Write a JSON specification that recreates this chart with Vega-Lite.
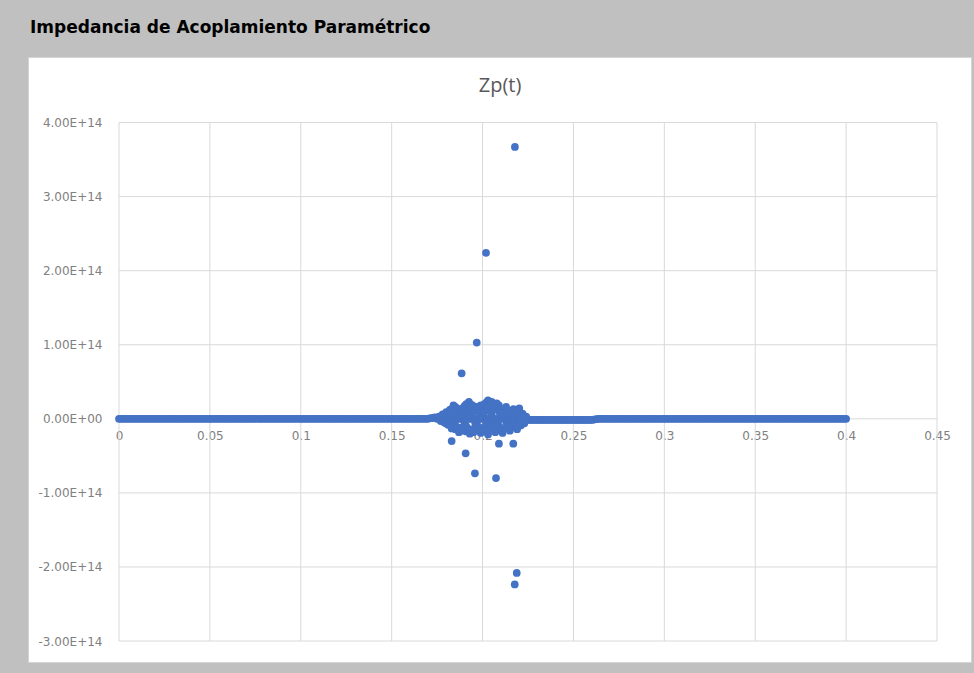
{
  "$schema": "https://vega.github.io/schema/vega-lite/v6.json",
  "autosize": "none",
  "width": 943,
  "height": 605,
  "padding": {"left": 28, "top": 57, "right": 3, "bottom": 11},
  "background": "#c0c0c0",
  "title": {"text": "Impedancia de Acoplamiento Paramétrico", "anchor": "start", "frame": "group", "font": "DejaVu Sans", "fontSize": 17, "fontWeight": "bold", "color": "#000000", "baseline": "alphabetic", "offset": 7, "dx": 2},
  "config": {"view": {"fill": "#ffffff", "stroke": "#d4d4d4", "strokeWidth": 1}},
  "datasets": {
    "gx": [{"t": 0}, {"t": 0.05}, {"t": 0.1}, {"t": 0.15}, {"t": 0.2}, {"t": 0.25}, {"t": 0.3}, {"t": 0.35}, {"t": 0.4}, {"t": 0.45}],
    "gy": [{"zp": -3e14}, {"zp": -2e14}, {"zp": -1e14}, {"zp": 0}, {"zp": 1e14}, {"zp": 2e14}, {"zp": 3e14}, {"zp": 4e14}],
    "pts": [
      {"t":0,"zp":0},{"t":0.00125,"zp":0},{"t":0.0025,"zp":0},{"t":0.00375,"zp":0},{"t":0.005,"zp":0},{"t":0.00625,"zp":0},{"t":0.0075,"zp":0},{"t":0.00875,"zp":0},{"t":0.01,"zp":0},{"t":0.01125,"zp":0},{"t":0.0125,"zp":0},{"t":0.01375,"zp":0},{"t":0.015,"zp":0},{"t":0.01625,"zp":0},{"t":0.0175,"zp":0},{"t":0.01875,"zp":0},{"t":0.02,"zp":0},{"t":0.02125,"zp":0},{"t":0.0225,"zp":0},{"t":0.02375,"zp":0},
      {"t":0.025,"zp":0},{"t":0.02625,"zp":0},{"t":0.0275,"zp":0},{"t":0.02875,"zp":0},{"t":0.03,"zp":0},{"t":0.03125,"zp":0},{"t":0.0325,"zp":0},{"t":0.03375,"zp":0},{"t":0.035,"zp":0},{"t":0.03625,"zp":0},{"t":0.0375,"zp":0},{"t":0.03875,"zp":0},{"t":0.04,"zp":0},{"t":0.04125,"zp":0},{"t":0.0425,"zp":0},{"t":0.04375,"zp":0},{"t":0.045,"zp":0},{"t":0.04625,"zp":0},{"t":0.0475,"zp":0},{"t":0.04875,"zp":0},
      {"t":0.05,"zp":0},{"t":0.05125,"zp":0},{"t":0.0525,"zp":0},{"t":0.05375,"zp":0},{"t":0.055,"zp":0},{"t":0.05625,"zp":0},{"t":0.0575,"zp":0},{"t":0.05875,"zp":0},{"t":0.06,"zp":0},{"t":0.06125,"zp":0},{"t":0.0625,"zp":0},{"t":0.06375,"zp":0},{"t":0.065,"zp":0},{"t":0.06625,"zp":0},{"t":0.0675,"zp":0},{"t":0.06875,"zp":0},{"t":0.07,"zp":0},{"t":0.07125,"zp":0},{"t":0.0725,"zp":0},{"t":0.07375,"zp":0},
      {"t":0.075,"zp":0},{"t":0.07625,"zp":0},{"t":0.0775,"zp":0},{"t":0.07875,"zp":0},{"t":0.08,"zp":0},{"t":0.08125,"zp":0},{"t":0.0825,"zp":0},{"t":0.08375,"zp":0},{"t":0.085,"zp":0},{"t":0.08625,"zp":0},{"t":0.0875,"zp":0},{"t":0.08875,"zp":0},{"t":0.09,"zp":0},{"t":0.09125,"zp":0},{"t":0.0925,"zp":0},{"t":0.09375,"zp":0},{"t":0.095,"zp":0},{"t":0.09625,"zp":0},{"t":0.0975,"zp":0},{"t":0.09875,"zp":0},
      {"t":0.1,"zp":0},{"t":0.10125,"zp":0},{"t":0.1025,"zp":0},{"t":0.10375,"zp":0},{"t":0.105,"zp":0},{"t":0.10625,"zp":0},{"t":0.1075,"zp":0},{"t":0.10875,"zp":0},{"t":0.11,"zp":0},{"t":0.11125,"zp":0},{"t":0.1125,"zp":0},{"t":0.11375,"zp":0},{"t":0.115,"zp":0},{"t":0.11625,"zp":0},{"t":0.1175,"zp":0},{"t":0.11875,"zp":0},{"t":0.12,"zp":0},{"t":0.12125,"zp":0},{"t":0.1225,"zp":0},{"t":0.12375,"zp":0},
      {"t":0.125,"zp":0},{"t":0.12625,"zp":0},{"t":0.1275,"zp":0},{"t":0.12875,"zp":0},{"t":0.13,"zp":0},{"t":0.13125,"zp":0},{"t":0.1325,"zp":0},{"t":0.13375,"zp":0},{"t":0.135,"zp":0},{"t":0.13625,"zp":0},{"t":0.1375,"zp":0},{"t":0.13875,"zp":0},{"t":0.14,"zp":0},{"t":0.14125,"zp":0},{"t":0.1425,"zp":0},{"t":0.14375,"zp":0},{"t":0.145,"zp":0},{"t":0.14625,"zp":0},{"t":0.1475,"zp":0},{"t":0.14875,"zp":0},
      {"t":0.15,"zp":0},{"t":0.15125,"zp":0},{"t":0.1525,"zp":0},{"t":0.15375,"zp":0},{"t":0.155,"zp":0},{"t":0.15625,"zp":0},{"t":0.1575,"zp":0},{"t":0.15875,"zp":0},{"t":0.16,"zp":0},{"t":0.16125,"zp":0},{"t":0.1625,"zp":0},{"t":0.16375,"zp":0},{"t":0.165,"zp":0},{"t":0.16625,"zp":0},{"t":0.1675,"zp":0},{"t":0.16875,"zp":0},{"t":0.17,"zp":0},{"t":0.17125,"zp":1e12},{"t":0.1725,"zp":1e12},{"t":0.17375,"zp":2e12},
      {"t":0.175,"zp":0},{"t":0.17625,"zp":0},{"t":0.1775,"zp":0},{"t":0.17875,"zp":0},{"t":0.18,"zp":0},{"t":0.18125,"zp":0},{"t":0.1825,"zp":0},{"t":0.18375,"zp":0},{"t":0.185,"zp":0},{"t":0.18625,"zp":0},{"t":0.1875,"zp":0},{"t":0.18875,"zp":0},{"t":0.19,"zp":0},{"t":0.19125,"zp":0},{"t":0.1925,"zp":0},{"t":0.19375,"zp":0},{"t":0.195,"zp":0},{"t":0.19625,"zp":0},{"t":0.1975,"zp":0},{"t":0.19875,"zp":0},
      {"t":0.2,"zp":0},{"t":0.20125,"zp":0},{"t":0.2025,"zp":0},{"t":0.20375,"zp":0},{"t":0.205,"zp":0},{"t":0.20625,"zp":0},{"t":0.2075,"zp":0},{"t":0.20875,"zp":0},{"t":0.21,"zp":0},{"t":0.21125,"zp":0},{"t":0.2125,"zp":0},{"t":0.21375,"zp":0},{"t":0.215,"zp":0},{"t":0.21625,"zp":0},{"t":0.2175,"zp":0},{"t":0.21875,"zp":0},{"t":0.22,"zp":0},{"t":0.22125,"zp":0},{"t":0.2225,"zp":0},{"t":0.22375,"zp":0},
      {"t":0.225,"zp":-1.5e12},{"t":0.22625,"zp":-1.5e12},{"t":0.2275,"zp":-1.5e12},{"t":0.22875,"zp":-1.5e12},{"t":0.23,"zp":-1.5e12},{"t":0.23125,"zp":-1.5e12},{"t":0.2325,"zp":-1.5e12},{"t":0.23375,"zp":-1.5e12},{"t":0.235,"zp":-1.5e12},{"t":0.23625,"zp":-1.5e12},{"t":0.2375,"zp":-1.5e12},{"t":0.23875,"zp":-1.5e12},{"t":0.24,"zp":-1.5e12},{"t":0.24125,"zp":-1.5e12},{"t":0.2425,"zp":-1.5e12},{"t":0.24375,"zp":-1.5e12},{"t":0.245,"zp":-1.5e12},{"t":0.24625,"zp":-1.5e12},{"t":0.2475,"zp":-1.5e12},{"t":0.24875,"zp":-1.5e12},
      {"t":0.25,"zp":-1.5e12},{"t":0.25125,"zp":-1.5e12},{"t":0.2525,"zp":-1.5e12},{"t":0.25375,"zp":-1.5e12},{"t":0.255,"zp":-1.5e12},{"t":0.25625,"zp":-1.5e12},{"t":0.2575,"zp":-1.5e12},{"t":0.25875,"zp":-1.5e12},{"t":0.26,"zp":-1.5e12},{"t":0.26125,"zp":-1e12},{"t":0.2625,"zp":-5e11},{"t":0.26375,"zp":0},{"t":0.265,"zp":0},{"t":0.26625,"zp":0},{"t":0.2675,"zp":0},{"t":0.26875,"zp":0},{"t":0.27,"zp":0},{"t":0.27125,"zp":0},{"t":0.2725,"zp":0},{"t":0.27375,"zp":0},
      {"t":0.275,"zp":0},{"t":0.27625,"zp":0},{"t":0.2775,"zp":0},{"t":0.27875,"zp":0},{"t":0.28,"zp":0},{"t":0.28125,"zp":0},{"t":0.2825,"zp":0},{"t":0.28375,"zp":0},{"t":0.285,"zp":0},{"t":0.28625,"zp":0},{"t":0.2875,"zp":0},{"t":0.28875,"zp":0},{"t":0.29,"zp":0},{"t":0.29125,"zp":0},{"t":0.2925,"zp":0},{"t":0.29375,"zp":0},{"t":0.295,"zp":0},{"t":0.29625,"zp":0},{"t":0.2975,"zp":0},{"t":0.29875,"zp":0},
      {"t":0.3,"zp":0},{"t":0.30125,"zp":0},{"t":0.3025,"zp":0},{"t":0.30375,"zp":0},{"t":0.305,"zp":0},{"t":0.30625,"zp":0},{"t":0.3075,"zp":0},{"t":0.30875,"zp":0},{"t":0.31,"zp":0},{"t":0.31125,"zp":0},{"t":0.3125,"zp":0},{"t":0.31375,"zp":0},{"t":0.315,"zp":0},{"t":0.31625,"zp":0},{"t":0.3175,"zp":0},{"t":0.31875,"zp":0},{"t":0.32,"zp":0},{"t":0.32125,"zp":0},{"t":0.3225,"zp":0},{"t":0.32375,"zp":0},
      {"t":0.325,"zp":0},{"t":0.32625,"zp":0},{"t":0.3275,"zp":0},{"t":0.32875,"zp":0},{"t":0.33,"zp":0},{"t":0.33125,"zp":0},{"t":0.3325,"zp":0},{"t":0.33375,"zp":0},{"t":0.335,"zp":0},{"t":0.33625,"zp":0},{"t":0.3375,"zp":0},{"t":0.33875,"zp":0},{"t":0.34,"zp":0},{"t":0.34125,"zp":0},{"t":0.3425,"zp":0},{"t":0.34375,"zp":0},{"t":0.345,"zp":0},{"t":0.34625,"zp":0},{"t":0.3475,"zp":0},{"t":0.34875,"zp":0},
      {"t":0.35,"zp":0},{"t":0.35125,"zp":0},{"t":0.3525,"zp":0},{"t":0.35375,"zp":0},{"t":0.355,"zp":0},{"t":0.35625,"zp":0},{"t":0.3575,"zp":0},{"t":0.35875,"zp":0},{"t":0.36,"zp":0},{"t":0.36125,"zp":0},{"t":0.3625,"zp":0},{"t":0.36375,"zp":0},{"t":0.365,"zp":0},{"t":0.36625,"zp":0},{"t":0.3675,"zp":0},{"t":0.36875,"zp":0},{"t":0.37,"zp":0},{"t":0.37125,"zp":0},{"t":0.3725,"zp":0},{"t":0.37375,"zp":0},
      {"t":0.375,"zp":0},{"t":0.37625,"zp":0},{"t":0.3775,"zp":0},{"t":0.37875,"zp":0},{"t":0.38,"zp":0},{"t":0.38125,"zp":0},{"t":0.3825,"zp":0},{"t":0.38375,"zp":0},{"t":0.385,"zp":0},{"t":0.38625,"zp":0},{"t":0.3875,"zp":0},{"t":0.38875,"zp":0},{"t":0.39,"zp":0},{"t":0.39125,"zp":0},{"t":0.3925,"zp":0},{"t":0.39375,"zp":0},{"t":0.395,"zp":0},{"t":0.39625,"zp":0},{"t":0.3975,"zp":0},{"t":0.39875,"zp":0},
      {"t":0.4,"zp":0},
      {"t":0.176,"zp":3e12},{"t":0.178,"zp":6e12},{"t":0.18,"zp":9e12},{"t":0.182,"zp":1.2e13},{"t":0.184,"zp":1.8e13},{"t":0.186,"zp":1.4e13},{"t":0.188,"zp":1e13},{"t":0.19,"zp":1.7e13},{"t":0.1925,"zp":2.3e13},{"t":0.194,"zp":1.9e13},
      {"t":0.196,"zp":1.4e13},{"t":0.198,"zp":1e13},{"t":0.2,"zp":1.6e13},{"t":0.202,"zp":2.2e13},{"t":0.203,"zp":2.5e13},{"t":0.205,"zp":2e13},{"t":0.2078,"zp":2.1e13},{"t":0.209,"zp":1.5e13},{"t":0.211,"zp":1.2e13},{"t":0.213,"zp":8e12},
      {"t":0.215,"zp":1.1e13},{"t":0.217,"zp":9e12},{"t":0.2202,"zp":1.4e13},{"t":0.222,"zp":7e12},{"t":0.224,"zp":3e12},
      {"t":0.177,"zp":-3e12},{"t":0.18,"zp":-6e12},{"t":0.183,"zp":-1e13},{"t":0.185,"zp":-1.4e13},{"t":0.187,"zp":-1.8e13},{"t":0.189,"zp":-1.3e13},{"t":0.191,"zp":-1.7e13},{"t":0.193,"zp":-2e13},{"t":0.195,"zp":-1.5e13},{"t":0.197,"zp":-1.1e13},
      {"t":0.199,"zp":-1.9e13},{"t":0.201,"zp":-1.6e13},{"t":0.203,"zp":-2.1e13},{"t":0.205,"zp":-1.3e13},{"t":0.207,"zp":-1.8e13},{"t":0.209,"zp":-1.4e13},{"t":0.211,"zp":-1.9e13},{"t":0.213,"zp":-1.2e13},{"t":0.215,"zp":-1.6e13},{"t":0.217,"zp":-1.1e13},
      {"t":0.219,"zp":-1.4e13},{"t":0.221,"zp":-9e12},{"t":0.223,"zp":-6e12},
      {"t":0.181,"zp":2e12},{"t":0.184,"zp":-3e12},{"t":0.187,"zp":5e12},{"t":0.19,"zp":-5e12},{"t":0.193,"zp":6e12},{"t":0.196,"zp":-6e12},{"t":0.199,"zp":5e12},{"t":0.202,"zp":-7e12},{"t":0.205,"zp":6e12},{"t":0.208,"zp":-5e12},
      {"t":0.211,"zp":4e12},{"t":0.214,"zp":-4e12},{"t":0.217,"zp":2e12},{"t":0.22,"zp":-3e12},
      {"t":0.179,"zp":4e12},{"t":0.179,"zp":-5e12},{"t":0.181,"zp":7e12},{"t":0.181,"zp":-8e12},{"t":0.183,"zp":5e12},{"t":0.183,"zp":-1.3e13},{"t":0.183,"zp":1.3e13},{"t":0.185,"zp":9e12},{"t":0.185,"zp":-9e12},{"t":0.185,"zp":1.6e13},
      {"t":0.187,"zp":1.2e13},{"t":0.187,"zp":-1.2e13},{"t":0.189,"zp":8e12},{"t":0.189,"zp":-1.6e13},{"t":0.189,"zp":1.4e13},{"t":0.191,"zp":1.1e13},{"t":0.191,"zp":-1e13},{"t":0.191,"zp":2e13},{"t":0.193,"zp":1.4e13},{"t":0.193,"zp":-1.4e13},
      {"t":0.195,"zp":1e13},{"t":0.195,"zp":-1.8e13},{"t":0.195,"zp":1.7e13},{"t":0.197,"zp":1.6e13},{"t":0.197,"zp":-8e12},{"t":0.199,"zp":1.2e13},{"t":0.199,"zp":-1.3e13},{"t":0.199,"zp":1.8e13},{"t":0.201,"zp":9e12},{"t":0.201,"zp":-1.1e13},
      {"t":0.201,"zp":2e13},{"t":0.203,"zp":1.5e13},{"t":0.203,"zp":-1.6e13},{"t":0.205,"zp":1.1e13},{"t":0.205,"zp":-9e12},{"t":0.205,"zp":2.3e13},{"t":0.207,"zp":1.4e13},{"t":0.207,"zp":-1.3e13},{"t":0.209,"zp":1e13},{"t":0.209,"zp":-1e13},
      {"t":0.209,"zp":1.8e13},{"t":0.211,"zp":8e12},{"t":0.211,"zp":-1.5e13},{"t":0.213,"zp":1.2e13},{"t":0.213,"zp":-8e12},{"t":0.213,"zp":1.6e13},{"t":0.215,"zp":6e12},{"t":0.215,"zp":-1.2e13},{"t":0.217,"zp":1.3e13},{"t":0.217,"zp":-6e12},
      {"t":0.219,"zp":8e12},{"t":0.219,"zp":-1e13},{"t":0.219,"zp":1e13},{"t":0.221,"zp":5e12},{"t":0.221,"zp":-5e12},{"t":0.223,"zp":2e12},{"t":0.223,"zp":-3e12},
      {"t":0.2178,"zp":3.67e14},{"t":0.2019,"zp":2.24e14},{"t":0.1968,"zp":1.03e14},{"t":0.1885,"zp":6.15e13},
      {"t":0.183,"zp":-3e13},{"t":0.209,"zp":-3.35e13},{"t":0.2169,"zp":-3.35e13},{"t":0.1907,"zp":-4.65e13},{"t":0.1958,"zp":-7.35e13},{"t":0.2074,"zp":-8e13},
      {"t":0.2188,"zp":-2.08e14},{"t":0.2177,"zp":-2.235e14}
    ]
  },
  "layer": [
    {
      "data": {"name": "gx"},
      "mark": {"type": "rule", "color": "#d9d9d9", "strokeWidth": 1},
      "encoding": {
        "x": {"field": "t", "type": "quantitative", "title": "Zp(t)"},
        "y": {"datum": -3e14, "type": "quantitative", "title": null},
        "y2": {"datum": 4e14}
      }
    },
    {
      "data": {"name": "gy"},
      "mark": {"type": "rule", "color": "#d9d9d9", "strokeWidth": 1},
      "encoding": {
        "y": {"field": "zp", "type": "quantitative", "title": null},
        "x": {"datum": 0, "type": "quantitative", "title": "Zp(t)"},
        "x2": {"datum": 0.45}
      }
    },
    {
      "data": {"name": "pts"},
      "mark": {"type": "circle", "size": 60, "color": "#4472C4", "opacity": 1},
      "encoding": {
        "x": {
          "field": "t", "type": "quantitative", "title": "Zp(t)",
          "scale": {"domain": [-0.05006, 0.4687], "nice": false, "zero": false},
          "axis": {
            "orient": "bottom", "offset": -243.2, "values": [0, 0.05, 0.1, 0.15, 0.2, 0.25, 0.3, 0.35, 0.4, 0.45],
            "format": "~g", "domain": false, "ticks": false, "tickSize": 0, "grid": false,
            "labelPadding": 12, "labelFont": "DejaVu Sans", "labelFontSize": 12, "labelColor": "#808080",
            "labelFlush": false, "labelOverlap": false,
            "titleFont": "Open Sans", "titleFontSize": 20, "titleFontWeight": "normal", "titleColor": "#595959",
            "titleY": -333, "titleBaseline": "middle"
          }
        },
        "y": {
          "field": "zp", "type": "quantitative", "title": null,
          "scale": {"domain": [-3.283e14, 4.885e14], "nice": false, "zero": false},
          "axis": {
            "offset": -91, "values": [-3e14, -2e14, -1e14, 0, 1e14, 2e14, 3e14, 4e14],
            "labelExpr": "datum.value == 0 ? '0.00E+00' : (datum.value < 0 ? '-' : '') + format(abs(datum.value)/1e14, '.2f') + 'E+14'",
            "domain": false, "ticks": false, "tickSize": 0, "grid": false,
            "labelPadding": 17, "labelFont": "DejaVu Sans", "labelFontSize": 12, "labelColor": "#808080",
            "labelFlush": false, "labelOverlap": false
          }
        }
      }
    }
  ]
}
